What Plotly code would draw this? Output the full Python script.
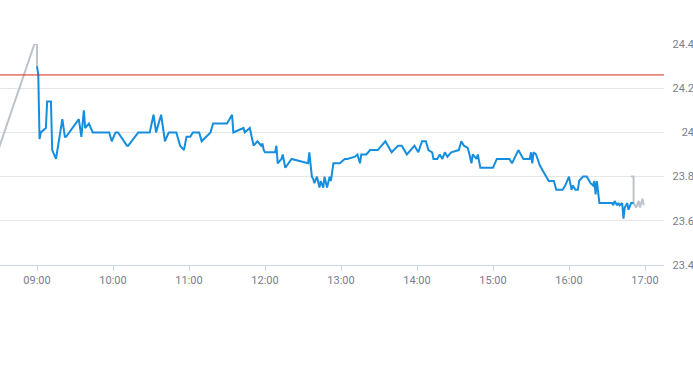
import plotly.graph_objects as go

DAY = "2024-06-03"

# Pre-market (grey) series
pre_times = ["08:30", "08:58", "09:00", "09:00"]
pre_values = [23.93, 24.40, 24.40, 24.30]

# Regular session (blue) series
times = ["09:00", "09:01", "09:02", "09:03", "09:07", "09:08", "09:11", "09:12", "09:15", "09:20",
         "09:22", "09:23", "09:33", "09:35", "09:37", "09:38", "09:41", "09:44", "09:57", "09:59",
         "10:02", "10:04", "10:11", "10:12", "10:20", "10:29", "10:32", "10:34", "10:38", "10:41",
         "10:44", "10:50", "10:53", "10:56", "10:58", "11:01", "11:03", "11:08", "11:10", "11:17",
         "11:19", "11:30", "11:34", "11:35", "11:43", "11:44", "11:48", "11:51", "11:54", "11:57",
         "11:58", "11:59", "12:00", "12:08", "12:09", "12:10", "12:13", "12:14", "12:16", "12:21",
         "12:34", "12:35", "12:37", "12:38", "12:39", "12:41", "12:43", "12:44", "12:46", "12:47",
         "12:49", "12:51", "12:52", "12:54", "12:59", "13:03", "13:05", "13:11", "13:13", "13:15",
         "13:16", "13:20", "13:23", "13:29", "13:35", "13:40", "13:45", "13:48", "13:52", "13:58",
         "14:01", "14:04", "14:07", "14:09", "14:12", "14:13", "14:16", "14:18", "14:20", "14:22",
         "14:24", "14:27", "14:33", "14:35", "14:37", "14:40", "14:41", "14:43", "14:44", "14:47",
         "14:48", "14:50", "15:00", "15:03", "15:13", "15:15", "15:20", "15:24", "15:29", "15:30",
         "15:31", "15:32", "15:34", "15:37", "15:40", "15:44", "15:48", "15:50", "15:55", "15:57",
         "16:00", "16:02", "16:03", "16:05", "16:07", "16:08", "16:11", "16:14", "16:17", "16:19",
         "16:20", "16:21", "16:22", "16:24", "16:34", "16:35", "16:36", "16:38", "16:39", "16:40",
         "16:42", "16:43", "16:44", "16:46", "16:47", "16:49", "16:51"]
values = [24.30, 24.26, 23.97, 24.00, 24.02, 24.14, 24.14, 23.92, 23.88, 24.06,
          23.98, 23.98, 24.06, 23.98, 24.10, 24.02, 24.04, 24.00, 24.00, 23.96,
          24.00, 24.00, 23.94, 23.94, 24.00, 24.00, 24.08, 24.00, 24.08, 23.96,
          24.00, 24.00, 23.94, 23.92, 23.98, 23.98, 24.00, 24.00, 23.96, 24.00,
          24.04, 24.04, 24.08, 24.00, 24.02, 24.00, 24.02, 23.94, 23.96, 23.94,
          23.95, 23.92, 23.91, 23.91, 23.94, 23.86, 23.88, 23.90, 23.84, 23.88,
          23.86, 23.91, 23.80, 23.79, 23.77, 23.80, 23.75, 23.78, 23.75, 23.80,
          23.75, 23.80, 23.78, 23.86, 23.86, 23.88, 23.88, 23.89, 23.90, 23.86,
          23.90, 23.90, 23.92, 23.92, 23.96, 23.91, 23.94, 23.94, 23.90, 23.94,
          23.91, 23.96, 23.96, 23.92, 23.91, 23.88, 23.88, 23.90, 23.88, 23.91,
          23.89, 23.91, 23.92, 23.96, 23.94, 23.93, 23.91, 23.86, 23.90, 23.88,
          23.90, 23.84, 23.84, 23.88, 23.88, 23.86, 23.92, 23.88, 23.88, 23.91,
          23.86, 23.91, 23.90, 23.85, 23.82, 23.78, 23.78, 23.74, 23.74, 23.76,
          23.80, 23.74, 23.76, 23.74, 23.74, 23.78, 23.80, 23.80, 23.77, 23.76,
          23.78, 23.72, 23.78, 23.68, 23.68, 23.67, 23.69, 23.67, 23.68, 23.67,
          23.68, 23.61, 23.66, 23.68, 23.65, 23.68, 23.68]

# After-hours (grey) series
post_times = ["16:49", "16:51", "16:51", "16:52", "16:53", "16:55", "16:56", "16:58", "16:59"]
post_values = [23.80, 23.80, 23.68, 23.67, 23.66, 23.69, 23.66, 23.70, 23.67]

ref_price = 24.26
y_ticks = [23.4, 23.6, 23.8, 24.0, 24.2, 24.4]
y_tick_labels = ["23.4", "23.6", "23.8", "24", "24.2", "24.4"]
x_range = ["08:30:47", "17:15:00"]


def ts(t):
    return f"{DAY} {t}"


fig = go.Figure()
fig.add_trace(go.Scatter(x=[ts(t) for t in pre_times], y=pre_values, mode="lines",
                         line=dict(color="#bcc3cb", width=2), hoverinfo="skip"))
fig.add_trace(go.Scatter(x=[ts(t) for t in post_times], y=post_values, mode="lines",
                         line=dict(color="#bcc3cb", width=2), hoverinfo="skip"))
fig.add_trace(go.Scatter(x=[ts(t) for t in times], y=values, mode="lines",
                         line=dict(color="#168ede", width=2)))

fig.add_shape(type="line", xref="paper", x0=0, x1=664 / 693, yref="y", y0=ref_price, y1=ref_price,
              line=dict(color="#d9251d", width=1))

label_font = dict(family="Roboto", size=11, color="#76808c")

fig.update_layout(
    width=693, height=365,
    margin=dict(l=0, r=0, t=44, b=100, autoexpand=False),
    paper_bgcolor="white", plot_bgcolor="white",
    showlegend=False,
    font=label_font,
    xaxis=dict(
        domain=[0, 664 / 693],
        type="date",
        range=[ts(x_range[0]), ts(x_range[1])],
        tick0=ts("09:00"), dtick=3600000, tickformat="%H:%M",
        showgrid=False, showline=True, linecolor="#ccd6eb", linewidth=1,
        ticks="outside", ticklen=5, tickcolor="#ccd6eb",
        tickfont=label_font,
        zeroline=False, fixedrange=True, automargin=False,
    ),
    yaxis=dict(
        range=[23.4, 24.4],
        tickvals=y_ticks, ticktext=y_tick_labels,
        side="left", anchor="free", position=1.0,
        showgrid=True, gridcolor="#e6e6e6", gridwidth=1,
        showline=False, zeroline=False, ticks="",
        tickfont=label_font, ticklabelstandoff=-1,
        fixedrange=True, automargin=False,
    ),
)

fig.write_html("out.html", config={"displayModeBar": False},
               post_script="document.body.style.margin='0';")
